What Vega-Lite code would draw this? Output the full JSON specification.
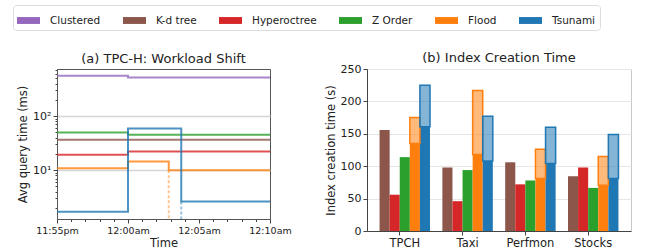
{
  "$schema": "https://vega.github.io/schema/vega-lite/v6.json",
  "background": "white",
  "padding": {"left": 12, "top": 4, "right": 5, "bottom": 1},
  "config": {
    "font": "DejaVu Sans",
    "title": {"fontSize": 13, "fontWeight": "normal", "color": "#222", "offset": -2},
    "axis": {"labelFontSize": 10, "titleFontSize": 11.5, "titleFontWeight": "normal", "labelColor": "#222", "titleColor": "#222", "domainColor": "#444", "tickColor": "#444", "labelOverlap": false}
  },
  "datasets": {
    "query": [
      {"method": "Clustered", "t": -5, "ms": 557},
      {"method": "Clustered", "t": 0, "ms": 519},
      {"method": "Clustered", "t": 10, "ms": 519},
      {"method": "K-d tree", "t": -5, "ms": 36.4},
      {"method": "K-d tree", "t": 0, "ms": 36.4},
      {"method": "K-d tree", "t": 10, "ms": 36.4},
      {"method": "Z Order", "t": -5, "ms": 49.7},
      {"method": "Z Order", "t": 0, "ms": 45.1},
      {"method": "Z Order", "t": 10, "ms": 45.1},
      {"method": "Hyperoctree", "t": -5, "ms": 19.2},
      {"method": "Hyperoctree", "t": 0, "ms": 22.1},
      {"method": "Hyperoctree", "t": 10, "ms": 22.1},
      {"method": "Flood", "t": -5, "ms": 10.9},
      {"method": "Flood", "t": 0, "ms": 14.4},
      {"method": "Flood", "t": 2.87, "ms": 10.0},
      {"method": "Flood", "t": 10, "ms": 10.0},
      {"method": "Tsunami", "t": -5, "ms": 1.71},
      {"method": "Tsunami", "t": 0, "ms": 59},
      {"method": "Tsunami", "t": 3.75, "ms": 2.62},
      {"method": "Tsunami", "t": 10, "ms": 2.62}
    ],
    "drops": [
      {"method": "Flood", "t": 2.87, "ms": 10.0, "bottom": 1},
      {"method": "Tsunami", "t": 3.75, "ms": 2.62, "bottom": 1}
    ],
    "build": [
      {"dataset": "TPCH", "method": "K-d tree", "solid": 156, "total": 156},
      {"dataset": "TPCH", "method": "Hyperoctree", "solid": 56, "total": 56},
      {"dataset": "TPCH", "method": "Z Order", "solid": 114, "total": 114},
      {"dataset": "TPCH", "method": "Flood", "solid": 135, "total": 175},
      {"dataset": "TPCH", "method": "Tsunami", "solid": 161, "total": 225},
      {"dataset": "Taxi", "method": "K-d tree", "solid": 98, "total": 98},
      {"dataset": "Taxi", "method": "Hyperoctree", "solid": 46, "total": 46},
      {"dataset": "Taxi", "method": "Z Order", "solid": 94, "total": 94},
      {"dataset": "Taxi", "method": "Flood", "solid": 118, "total": 217},
      {"dataset": "Taxi", "method": "Tsunami", "solid": 108, "total": 177},
      {"dataset": "Perfmon", "method": "K-d tree", "solid": 106, "total": 106},
      {"dataset": "Perfmon", "method": "Hyperoctree", "solid": 72, "total": 72},
      {"dataset": "Perfmon", "method": "Z Order", "solid": 78, "total": 78},
      {"dataset": "Perfmon", "method": "Flood", "solid": 81, "total": 126},
      {"dataset": "Perfmon", "method": "Tsunami", "solid": 104, "total": 160},
      {"dataset": "Stocks", "method": "K-d tree", "solid": 84.5, "total": 84.5},
      {"dataset": "Stocks", "method": "Hyperoctree", "solid": 98, "total": 98},
      {"dataset": "Stocks", "method": "Z Order", "solid": 66.5, "total": 66.5},
      {"dataset": "Stocks", "method": "Flood", "solid": 70.5, "total": 115},
      {"dataset": "Stocks", "method": "Tsunami", "solid": 81, "total": 149}
    ]
  },
  "bounds": "flush",
  "spacing": 97,
  "hconcat": [
    {
      "width": 213,
      "height": 150,
      "title": "(a) TPC-H: Workload Shift",
      "view": {"stroke": "#555"},
      "encoding": {
        "x": {"field": "t", "type": "quantitative",
          "scale": {"domain": [-5, 10], "nice": false, "zero": false},
          "axis": {"title": "Time", "grid": false, "labelFontSize": 9.5, "labelOverlap": false, "labelFlush": false,
            "values": [-5,-4,-3,-2,-1,0,1,2,3,4,5,6,7,8,9,10],
            "labelExpr": "datum.value == -5 ? '11:55pm' : datum.value == 0 ? '12:00am' : datum.value == 5 ? '12:05am' : datum.value == 10 ? '12:10am' : ''",
            "tickSize": {"condition": {"test": "datum.value % 5 == 0", "value": 4}, "value": 2.5},
            "domainColor": "#555", "titlePadding": 3}},
        "y": {"field": "ms", "type": "quantitative",
          "scale": {"type": "log", "domain": [1.25, 742], "nice": false},
          "axis": {"title": "Avg query time (ms)", "labelOverlap": false,
            "values": [2,3,4,5,6,7,8,9,10,20,30,40,50,60,70,80,90,100,200,300,400,500,600,700],
            "labelExpr": "datum.value == 10 ? '10¹' : datum.value == 100 ? '10²' : ''",
            "grid": true, "gridWidth": 1.5,
            "gridColor": {"condition": {"test": "datum.value == 10 || datum.value == 100", "value": "#d5d5d5"}, "value": "transparent"},
            "tickSize": {"condition": {"test": "datum.value == 10 || datum.value == 100", "value": 4}, "value": 2},
            "labelFontSize": 11, "domainColor": "#555"}},
        "stroke": {"field": "method", "type": "nominal",
          "scale": {"domain": ["Tsunami","Flood","Z Order","Hyperoctree","K-d tree","Clustered"],
                    "range": ["#1f77b4","#ff7f0e","#2ca02c","#d62728","#8c564b","#9467bd"]},
          "legend": null}
      },
      "layer": [
        {
          "data": {"name": "query"},
          "mark": {"type": "line", "interpolate": "step-after", "strokeWidth": 2, "opacity": 0.8, "clip": true}
        },
        {
          "data": {"name": "drops"},
          "mark": {"type": "rule", "strokeDash": [3, 2], "strokeWidth": 2, "opacity": 0.45, "clip": true},
          "encoding": {"y2": {"field": "bottom"}}
        }
      ]
    },
    {
      "width": 264,
      "height": 162,
      "title": "(b) Index Creation Time",
      "view": {"stroke": "#c8c8c8"},
      "data": {"name": "build"},
      "encoding": {
        "x": {"field": "dataset", "type": "nominal", "sort": ["TPCH","Taxi","Perfmon","Stocks"],
          "scale": {"paddingInner": 0.197, "paddingOuter": 0.2},
          "axis": {"title": null, "labelAngle": 0, "bandPosition": 0.4, "labelFontSize": 11.5, "tickSize": 4}},
        "xOffset": {"field": "method", "type": "nominal", "sort": ["K-d tree","Hyperoctree","Z Order","Flood","Tsunami"]},
        "y": {"field": "solid", "type": "quantitative",
          "scale": {"domain": [0, 250], "nice": false},
          "axis": {"title": "Index creation time (s)", "values": [0,50,100,150,200,250], "labelOverlap": false,
            "grid": true, "gridColor": "#e6e6e6", "labelFontSize": 11, "tickSize": 4}},
        "color": {"field": "method", "type": "nominal",
          "scale": {"domain": ["Clustered","K-d tree","Hyperoctree","Z Order","Flood","Tsunami"],
                    "range": ["#9467bd","#8c564b","#d62728","#2ca02c","#ff7f0e","#1f77b4"]},
          "legend": {"orient": "none", "legendX": -44, "legendY": -64, "direction": "horizontal", "title": null,
            "symbolType": "M-1,-0.3H1V0.3H-1Z", "symbolSize": 529,
            "symbolStrokeWidth": 0, "symbolOpacity": 1,
            "labelFontSize": 10.5, "labelOffset": 10, "columnPadding": 22,
            "padding": 4, "strokeColor": "#dddddd", "cornerRadius": 3,
            "labelColor": "#222"}}
      },
      "layer": [
        {
          "mark": {"type": "bar"}
        },
        {
          "transform": [{"filter": "datum.total > datum.solid"}],
          "mark": {"type": "bar", "fillOpacity": 0.55, "strokeWidth": 1.5,
            "stroke": {"expr": "datum.method === 'Flood' ? '#ff7f0e' : '#1f77b4'"}},
          "encoding": {
            "y2": {"field": "total"}
          }
        }
      ]
    }
  ]
}
